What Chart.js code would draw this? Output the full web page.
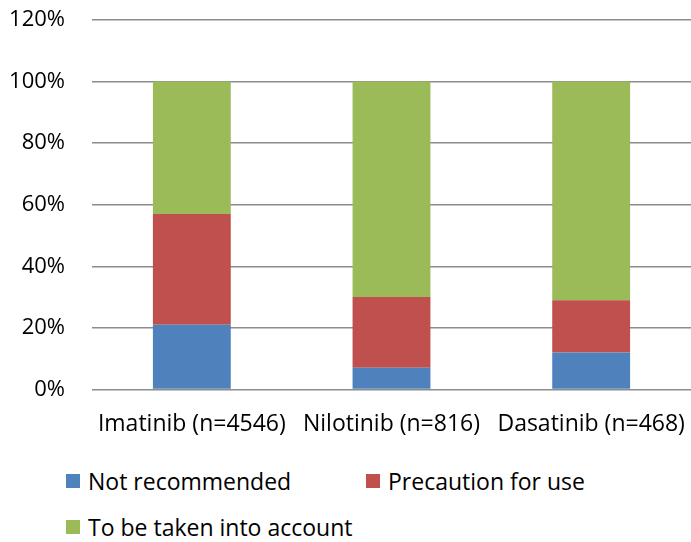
<!DOCTYPE html>
<html>
<head>
<meta charset="utf-8">
<script src="https://cdn.jsdelivr.net/npm/chart.js@4"></script>
<style>
  body { margin: 0; background: #fff; }
  #wrap { position: relative; width: 691px; height: 542px; font-family: "Open Sans", sans-serif; }
  #legend .item { position: absolute; display: flex; align-items: center; font-size: 23px; color: #000; white-space: nowrap; }
  #legend .box { width: 14px; height: 14px; margin-right: 8px; }
</style>
</head>
<body>
<div id="wrap">
  <canvas id="chart-1" width="691" height="464"></canvas>
  <div id="legend"></div>
</div>
<script>
// data
const categories = ["Imatinib (n=4546)", "Nilotinib (n=816)", "Dasatinib (n=468)"];
const seriesNames = ["Not recommended", "Precaution for use", "To be taken into account"];
const notRecommended = [21, 7, 12];
const precautionForUse = [36, 23, 17];
const takenIntoAccount = [43, 70, 71];
const yTicks = [0, 20, 40, 60, 80, 100, 120];

const colors = ["#4F81BD", "#C0504D", "#9BBB59"];
const allSeries = [notRecommended, precautionForUse, takenIntoAccount];

const ctx1 = document.getElementById("chart-1").getContext("2d");
const myChart = new Chart(ctx1, {
  type: "bar",
  data: {
    labels: categories,
    datasets: allSeries.map((vals, i) => ({
      label: seriesNames[i],
      data: vals,
      backgroundColor: colors[i],
      borderWidth: 0,
      categoryPercentage: 1,
      barPercentage: 0.39,
    })),
  },
  options: {
    responsive: false,
    animation: false,
    layout: { padding: { top: 20, right: 0, bottom: 13, left: 0 } },
    plugins: { legend: { display: false }, tooltip: { enabled: false } },
    scales: {
      x: {
        stacked: true,
        grid: { display: false },
        border: { display: false },
        afterFit: (scale) => {
          // labels fit inside their categories, no extra side padding
          scale.paddingLeft = 0;
          scale.paddingRight = 0;
        },
        ticks: { color: "#000", font: { family: "Open Sans", size: 23 }, padding: 13, maxRotation: 0, autoSkip: false },
      },
      y: {
        stacked: true,
        min: 0,
        max: 120,
        afterBuildTicks: (scale) => { scale.ticks = yTicks.map((v) => ({ value: v })); },
        afterFit: (scale) => {
          scale.width = 92;
          // tick padding is only meant as horizontal gap here
          scale.paddingTop = 0;
          scale.paddingBottom = 0;
        },
        grid: { color: "#8c8c8c", lineWidth: 1.5, drawTicks: false },
        border: { display: false },
        ticks: { color: "#000", font: { family: "Open Sans", size: 22 }, padding: 27, callback: (v) => v + "%" },
      },
    },
  },
});

// legend laid out like the original (two rows)
const legendPos = [[66, 481], [366, 481], [66, 527]];
const legend = document.getElementById("legend");
seriesNames.forEach((name, i) => {
  const item = document.createElement("div");
  item.className = "item";
  item.style.left = legendPos[i][0] + "px";
  item.style.top = (legendPos[i][1] - 16) + "px";
  item.innerHTML = '<span class="box" style="background:' + colors[i] + '"></span><span>' + name + "</span>";
  legend.appendChild(item);
});
</script>
</body>
</html>
